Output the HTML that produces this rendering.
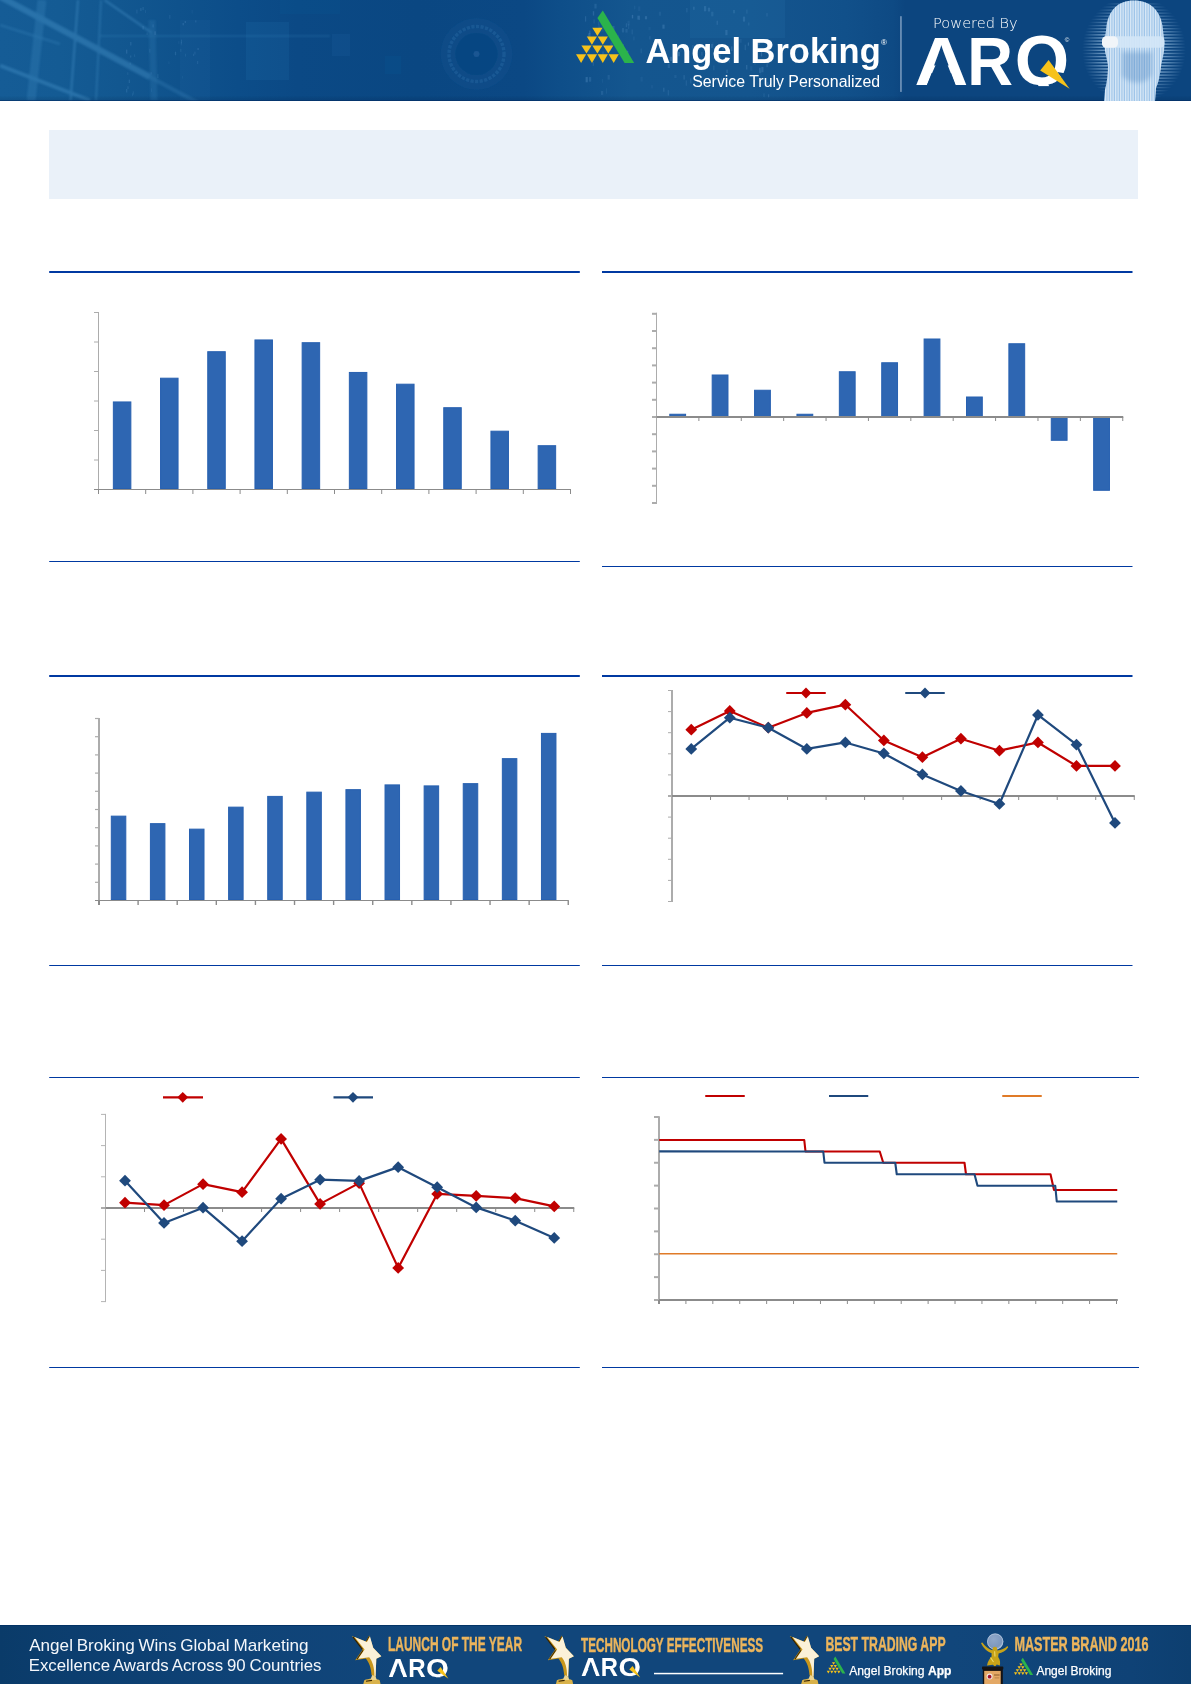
<!DOCTYPE html>
<html lang="en"><head><meta charset="utf-8"><title>Angel Broking - Market Outlook</title>
<style>
html,body{margin:0;padding:0;background:#ffffff;}
body{width:1191px;height:1684px;overflow:hidden;font-family:"Liberation Sans",sans-serif;}
svg{display:block;position:absolute;left:0;top:0;}
text{white-space:pre;}
</style></head><body>
<svg width="1191" height="1684" viewBox="0 0 1191 1684">
<rect x="0" y="0" width="1191" height="1684" fill="#ffffff"/>
<rect x="49" y="130" width="1089" height="69" fill="#eaf1f9"/>
<defs>
<linearGradient id="hg" gradientUnits="userSpaceOnUse" x1="0" x2="1191" y1="0" y2="0">
<stop offset="0" stop-color="#155c96"/>
<stop offset="0.05" stop-color="#145b94"/>
<stop offset="0.10" stop-color="#125790"/>
<stop offset="0.15" stop-color="#0f528c"/>
<stop offset="0.20" stop-color="#0c4d89"/>
<stop offset="0.25" stop-color="#0b4985"/>
<stop offset="0.35" stop-color="#0a4782"/>
<stop offset="0.44" stop-color="#0b4884"/>
<stop offset="0.47" stop-color="#0e4e89"/>
<stop offset="0.53" stop-color="#14568f"/>
<stop offset="0.63" stop-color="#14558e"/>
<stop offset="0.71" stop-color="#11508a"/>
<stop offset="0.75" stop-color="#0e4a84"/>
<stop offset="0.76" stop-color="#0c457f"/>
<stop offset="1" stop-color="#0c457f"/>
</linearGradient>
<linearGradient id="hv" x1="0" x2="0" y1="0" y2="1">
<stop offset="0" stop-color="#000" stop-opacity="0"/>
<stop offset="0.95" stop-color="#000" stop-opacity="0"/>
<stop offset="0.985" stop-color="#001a40" stop-opacity="0.12"/>
<stop offset="0.991" stop-color="#00255a" stop-opacity="0.55"/>
<stop offset="1" stop-color="#00255a" stop-opacity="0.55"/>
</linearGradient>
<filter id="b1" x="-5%" y="-20%" width="110%" height="140%"><feGaussianBlur stdDeviation="1.3"/></filter>
<filter id="b2" x="-20%" y="-20%" width="140%" height="140%"><feGaussianBlur stdDeviation="0.7"/></filter>
<filter id="b3" x="-20%" y="-20%" width="140%" height="140%"><feGaussianBlur stdDeviation="2.2"/></filter>
<pattern id="vs" width="2.5" height="4" patternUnits="userSpaceOnUse"><rect width="1.3" height="4" fill="#fff" fill-opacity="0.62"/></pattern>
<pattern id="hs" width="4" height="3.1" patternUnits="userSpaceOnUse"><rect width="4" height="1.5" fill="#a9cdee" fill-opacity="0.7"/></pattern>
<pattern id="dg" width="7" height="9" patternUnits="userSpaceOnUse"><rect x="2" y="1" width="1.4" height="5" fill="#9fd0ff" fill-opacity="0.5"/></pattern>
<radialGradient id="halo" gradientUnits="userSpaceOnUse" cx="1134" cy="50" r="52" gradientTransform="translate(0 50) scale(1 1.05) translate(0 -50)"><stop offset="0" stop-color="#fff" stop-opacity="1"/><stop offset="0.62" stop-color="#fff" stop-opacity="0.85"/><stop offset="1" stop-color="#fff" stop-opacity="0"/></radialGradient>
<mask id="hm" maskUnits="userSpaceOnUse" x="1075" y="0" width="116" height="101"><rect x="1075" y="0" width="116" height="101" fill="url(#halo)"/></mask>
<clipPath id="hc"><rect x="0" y="0" width="1191" height="101"/></clipPath>
</defs>
<g id="header" clip-path="url(#hc)">
<rect x="0" y="0" width="1191" height="101" fill="url(#hg)"/>
<!-- left light streaks -->
<g filter="url(#b1)" stroke="#6dbcf0" fill="none" opacity="0.24">
<line x1="-5" y1="-6" x2="150" y2="77" stroke-width="6"/>
<line x1="150" y1="77" x2="200" y2="104" stroke-width="4" opacity="0.6"/>
<line x1="104.5" y1="0" x2="152" y2="33" stroke-width="2.2"/>
<line x1="0" y1="65.5" x2="90" y2="100.5" stroke-width="3.5"/>
<line x1="0" y1="25" x2="60" y2="44" stroke-width="2.5" opacity="0.6"/>
<line x1="42" y1="0" x2="31" y2="101" stroke-width="9" opacity="0.6"/>
<line x1="78" y1="0" x2="70.5" y2="101" stroke-width="2.2"/>
<line x1="101" y1="0" x2="96" y2="101" stroke-width="2" opacity="0.8"/>
<line x1="100" y1="36" x2="330" y2="36" stroke-width="1.6" opacity="0.7"/>
<line x1="152" y1="20" x2="154" y2="101" stroke-width="7" opacity="0.45"/>
</g>
<!-- squares -->
<g filter="url(#b2)">
<rect x="246" y="22" width="43" height="58" fill="#2f80c2" opacity="0.13"/>
<rect x="180" y="20" width="30" height="80" fill="#2f80c2" opacity="0.08"/>
<rect x="332" y="34" width="18" height="22" fill="#2f80c2" opacity="0.10"/>
<rect x="385" y="56" width="16" height="18" fill="#2f80c2" opacity="0.07"/>
<rect x="280" y="0" width="60" height="14" fill="#2f80c2" opacity="0.06"/>
<rect x="690" y="0" width="95" height="38" fill="#3f8fd0" opacity="0.10"/>
</g>
<!-- dial -->
<g filter="url(#b2)">
<circle cx="476.5" cy="54" r="36" fill="#3f86c4" opacity="0.07"/>
<circle cx="476.5" cy="54" r="27.5" fill="none" stroke="#5a9bd2" stroke-width="3.4" stroke-dasharray="3.2 1.4" opacity="0.16"/>
<circle cx="476.5" cy="54" r="21" fill="#083f78" opacity="0.35"/>
<circle cx="476.5" cy="54" r="3" fill="#4d92cf" opacity="0.22"/>
</g>
<!-- digit texture -->
<g fill="#9fd0ff" filter="url(#b2)">
<rect x="644.9" y="16.2" width="2.2" height="3.1" opacity="0.17"/>
<rect x="602.4" y="56.8" width="2.2" height="3.5" opacity="0.06"/>
<rect x="662.4" y="24.6" width="2.2" height="4.1" opacity="0.17"/>
<rect x="607.9" y="23.0" width="2.2" height="4.5" opacity="0.06"/>
<rect x="693.3" y="6.7" width="1.2" height="3.1" opacity="0.18"/>
<rect x="638.6" y="15.6" width="1.2" height="4.4" opacity="0.13"/>
<rect x="711.2" y="11.7" width="2.2" height="4.6" opacity="0.11"/>
<rect x="686.3" y="7.9" width="1.2" height="4.5" opacity="0.12"/>
<rect x="683.4" y="75.1" width="1.4" height="4.5" opacity="0.12"/>
<rect x="640.5" y="76.7" width="2.2" height="4.9" opacity="0.06"/>
<rect x="640.5" y="48.5" width="1.4" height="4.8" opacity="0.09"/>
<rect x="766.3" y="13.1" width="1.4" height="3.4" opacity="0.10"/>
<rect x="757.7" y="41.6" width="2.2" height="3.2" opacity="0.13"/>
<rect x="731.0" y="78.9" width="1.4" height="4.7" opacity="0.14"/>
<rect x="692.3" y="44.9" width="1.2" height="5.4" opacity="0.12"/>
<rect x="707.9" y="7.7" width="2.2" height="3.8" opacity="0.14"/>
<rect x="711.0" y="43.9" width="2.2" height="4.0" opacity="0.15"/>
<rect x="589.2" y="45.4" width="1.2" height="4.5" opacity="0.12"/>
<rect x="625.4" y="29.0" width="2.2" height="3.6" opacity="0.11"/>
<rect x="746.2" y="9.6" width="1.4" height="4.0" opacity="0.09"/>
<rect x="610.3" y="42.5" width="2.2" height="3.7" opacity="0.11"/>
<rect x="651.4" y="85.1" width="1.2" height="3.4" opacity="0.08"/>
<rect x="627.9" y="23.9" width="1.4" height="5.1" opacity="0.08"/>
<rect x="637.2" y="15.7" width="2.2" height="3.9" opacity="0.13"/>
<rect x="761.3" y="66.9" width="2.2" height="5.4" opacity="0.15"/>
<rect x="721.9" y="44.9" width="2.2" height="5.0" opacity="0.11"/>
<rect x="658.8" y="11.7" width="2.2" height="4.0" opacity="0.08"/>
<rect x="767.2" y="43.4" width="1.2" height="3.9" opacity="0.06"/>
<rect x="585.0" y="16.2" width="1.2" height="5.4" opacity="0.14"/>
<rect x="598.0" y="21.5" width="1.4" height="3.4" opacity="0.09"/>
<rect x="649.3" y="36.2" width="1.2" height="3.3" opacity="0.12"/>
<rect x="765.9" y="47.2" width="1.4" height="3.2" opacity="0.07"/>
<rect x="648.4" y="26.9" width="2.2" height="3.4" opacity="0.05"/>
<rect x="760.9" y="51.7" width="1.2" height="4.7" opacity="0.19"/>
<rect x="725.3" y="30.0" width="2.2" height="5.2" opacity="0.15"/>
<rect x="633.3" y="36.5" width="1.2" height="3.9" opacity="0.08"/>
<rect x="685.2" y="49.3" width="2.2" height="3.6" opacity="0.17"/>
<rect x="767.2" y="82.1" width="1.2" height="5.0" opacity="0.16"/>
<rect x="626.9" y="50.7" width="1.4" height="4.8" opacity="0.20"/>
<rect x="731.2" y="46.4" width="1.2" height="4.7" opacity="0.19"/>
<rect x="667.7" y="90.1" width="1.4" height="5.4" opacity="0.10"/>
<rect x="625.8" y="23.3" width="1.2" height="3.8" opacity="0.12"/>
<rect x="767.3" y="59.4" width="1.2" height="4.2" opacity="0.15"/>
<rect x="732.9" y="10.0" width="2.2" height="3.3" opacity="0.11"/>
<rect x="716.6" y="20.7" width="1.2" height="4.1" opacity="0.15"/>
<rect x="601.0" y="90.9" width="2.2" height="4.0" opacity="0.11"/>
<rect x="760.2" y="70.1" width="1.2" height="5.5" opacity="0.05"/>
<rect x="694.3" y="45.7" width="2.2" height="3.4" opacity="0.17"/>
<rect x="766.4" y="63.8" width="1.4" height="3.4" opacity="0.13"/>
<rect x="589.0" y="77.1" width="2.2" height="4.6" opacity="0.13"/>
<rect x="757.7" y="42.8" width="1.2" height="5.1" opacity="0.08"/>
<rect x="631.6" y="29.5" width="1.2" height="4.9" opacity="0.10"/>
<rect x="685.7" y="80.4" width="1.2" height="5.3" opacity="0.10"/>
<rect x="669.8" y="56.8" width="2.2" height="4.1" opacity="0.19"/>
<rect x="677.8" y="52.0" width="2.2" height="4.3" opacity="0.18"/>
<rect x="728.7" y="59.2" width="1.2" height="3.4" opacity="0.12"/>
<rect x="719.2" y="54.3" width="1.4" height="4.7" opacity="0.13"/>
<rect x="674.3" y="75.0" width="2.2" height="3.1" opacity="0.08"/>
<rect x="592.8" y="11.2" width="1.4" height="4.4" opacity="0.16"/>
<rect x="753.8" y="43.7" width="2.2" height="5.4" opacity="0.14"/>
<rect x="621.9" y="28.1" width="2.2" height="4.3" opacity="0.12"/>
<rect x="759.2" y="67.7" width="1.4" height="5.3" opacity="0.18"/>
<rect x="622.5" y="44.1" width="1.4" height="3.3" opacity="0.12"/>
<rect x="598.4" y="24.6" width="1.2" height="3.5" opacity="0.10"/>
<rect x="607.6" y="75.0" width="2.2" height="4.6" opacity="0.10"/>
<rect x="631.8" y="14.9" width="1.4" height="3.5" opacity="0.19"/>
<rect x="658.7" y="47.8" width="2.2" height="5.1" opacity="0.07"/>
<rect x="664.8" y="50.5" width="1.4" height="4.1" opacity="0.10"/>
<rect x="602.1" y="36.4" width="1.4" height="4.4" opacity="0.12"/>
<rect x="588.3" y="33.2" width="2.2" height="3.7" opacity="0.19"/>
<rect x="605.9" y="88.3" width="1.2" height="5.4" opacity="0.07"/>
<rect x="634.1" y="5.7" width="1.2" height="3.7" opacity="0.07"/>
<rect x="663.1" y="87.7" width="1.4" height="4.0" opacity="0.13"/>
<rect x="680.2" y="48.5" width="1.4" height="3.2" opacity="0.06"/>
<rect x="712.3" y="42.0" width="1.2" height="3.7" opacity="0.05"/>
<rect x="601.4" y="26.5" width="2.2" height="5.1" opacity="0.06"/>
<rect x="744.6" y="44.7" width="1.4" height="5.5" opacity="0.11"/>
<rect x="754.4" y="60.4" width="1.2" height="4.3" opacity="0.09"/>
<rect x="605.2" y="17.2" width="1.2" height="3.5" opacity="0.19"/>
<rect x="701.3" y="51.9" width="1.2" height="3.7" opacity="0.13"/>
<rect x="617.9" y="34.6" width="1.2" height="5.5" opacity="0.06"/>
<rect x="588.4" y="49.5" width="1.2" height="4.3" opacity="0.09"/>
<rect x="667.7" y="63.9" width="2.2" height="4.1" opacity="0.12"/>
<rect x="739.4" y="39.0" width="2.2" height="3.8" opacity="0.08"/>
<rect x="627.5" y="20.7" width="2.2" height="4.8" opacity="0.07"/>
<rect x="768.0" y="94.3" width="1.2" height="3.0" opacity="0.14"/>
<rect x="747.8" y="42.5" width="1.2" height="3.2" opacity="0.18"/>
<rect x="746.0" y="65.0" width="1.4" height="4.5" opacity="0.15"/>
<rect x="593.4" y="19.4" width="1.4" height="4.1" opacity="0.09"/>
<rect x="762.9" y="93.4" width="2.2" height="3.8" opacity="0.06"/>
<rect x="748.2" y="22.5" width="1.2" height="3.0" opacity="0.11"/>
<rect x="672.8" y="49.3" width="1.2" height="3.6" opacity="0.17"/>
<rect x="601.8" y="78.8" width="1.2" height="4.0" opacity="0.06"/>
<rect x="589.2" y="30.6" width="1.2" height="3.2" opacity="0.19"/>
<rect x="742.9" y="16.6" width="2.2" height="5.0" opacity="0.14"/>
<rect x="726.4" y="69.7" width="1.4" height="3.4" opacity="0.16"/>
<rect x="704.0" y="6.1" width="2.2" height="5.2" opacity="0.14"/>
<rect x="720.8" y="78.3" width="1.2" height="5.3" opacity="0.16"/>
<rect x="690.2" y="78.4" width="1.2" height="5.1" opacity="0.14"/>
<rect x="750.2" y="66.2" width="2.2" height="4.6" opacity="0.06"/>
<rect x="592.7" y="61.9" width="1.2" height="3.9" opacity="0.12"/>
<rect x="594.4" y="3.8" width="2.2" height="4.7" opacity="0.12"/>
<rect x="585.6" y="77.0" width="2.2" height="5.3" opacity="0.18"/>
<rect x="602.0" y="51.4" width="2.2" height="4.8" opacity="0.09"/>
<rect x="598.8" y="27.0" width="2.2" height="4.9" opacity="0.08"/>
<rect x="705.2" y="45.3" width="1.4" height="3.2" opacity="0.19"/>
<rect x="638.2" y="6.4" width="2.2" height="4.6" opacity="0.06"/>
<rect x="612.3" y="25.9" width="2.2" height="4.7" opacity="0.14"/>
<rect x="609.7" y="47.3" width="1.4" height="3.7" opacity="0.15"/>
<rect x="713.1" y="65.5" width="1.4" height="4.8" opacity="0.09"/>
<rect x="157.3" y="74.1" width="1.2" height="4.0" opacity="0.11"/>
<rect x="144.9" y="10.1" width="1.2" height="2.9" opacity="0.08"/>
<rect x="126.1" y="49.6" width="1.2" height="4.0" opacity="0.16"/>
<rect x="150.9" y="88.2" width="1.2" height="3.9" opacity="0.06"/>
<rect x="127.2" y="72.3" width="1.2" height="2.5" opacity="0.09"/>
<rect x="168.3" y="61.4" width="1.2" height="2.6" opacity="0.06"/>
<rect x="149.2" y="48.8" width="1.2" height="3.8" opacity="0.09"/>
<rect x="132.7" y="91.3" width="1.2" height="3.4" opacity="0.09"/>
<rect x="178.2" y="41.1" width="1.2" height="2.8" opacity="0.06"/>
<rect x="146.5" y="32.5" width="1.2" height="2.7" opacity="0.09"/>
<rect x="195.2" y="20.4" width="1.2" height="2.0" opacity="0.13"/>
<rect x="140.3" y="8.1" width="1.2" height="2.8" opacity="0.15"/>
<rect x="126.1" y="89.0" width="1.2" height="3.5" opacity="0.14"/>
<rect x="142.5" y="6.9" width="1.2" height="3.3" opacity="0.12"/>
<rect x="131.9" y="93.3" width="1.2" height="2.9" opacity="0.08"/>
<rect x="181.9" y="75.8" width="1.2" height="2.9" opacity="0.05"/>
<rect x="180.9" y="39.6" width="1.2" height="3.8" opacity="0.11"/>
<rect x="136.3" y="9.6" width="1.2" height="3.9" opacity="0.10"/>
<rect x="169.2" y="15.0" width="1.2" height="3.7" opacity="0.10"/>
<rect x="193.0" y="53.7" width="1.2" height="2.3" opacity="0.10"/>
<rect x="142.5" y="26.0" width="1.2" height="3.5" opacity="0.12"/>
<rect x="152.5" y="24.4" width="1.2" height="3.0" opacity="0.12"/>
<rect x="129.6" y="62.5" width="1.2" height="2.2" opacity="0.11"/>
<rect x="184.9" y="53.7" width="1.2" height="2.9" opacity="0.09"/>
<rect x="180.7" y="42.2" width="1.2" height="3.1" opacity="0.08"/>
<rect x="134.0" y="54.3" width="1.2" height="2.6" opacity="0.09"/>
<rect x="184.7" y="21.0" width="1.2" height="2.0" opacity="0.15"/>
<rect x="150.6" y="72.1" width="1.2" height="2.4" opacity="0.08"/>
<rect x="180.2" y="48.8" width="1.2" height="3.1" opacity="0.09"/>
<rect x="174.9" y="51.7" width="1.2" height="3.6" opacity="0.14"/>
<rect x="127.4" y="86.3" width="1.2" height="2.8" opacity="0.12"/>
<rect x="154.5" y="31.3" width="1.2" height="3.6" opacity="0.16"/>
<rect x="130.2" y="42.0" width="1.2" height="3.5" opacity="0.14"/>
<rect x="197.5" y="48.0" width="1.2" height="2.1" opacity="0.15"/>
<rect x="194.3" y="51.6" width="1.2" height="2.9" opacity="0.10"/>
<rect x="182.6" y="23.0" width="1.2" height="2.3" opacity="0.16"/>
<rect x="128.7" y="79.6" width="1.2" height="3.4" opacity="0.14"/>
<rect x="191.6" y="10.0" width="1.2" height="3.6" opacity="0.05"/>
<rect x="130.1" y="55.5" width="1.2" height="2.1" opacity="0.13"/>
<rect x="197.0" y="60.9" width="1.2" height="3.1" opacity="0.10"/>
</g>
<rect x="0" y="0" width="1191" height="101" fill="url(#hv)"/>
<!-- face -->
<g mask="url(#hm)"><rect x="1078" y="2" width="112" height="98" fill="url(#hs)"/></g>
<g filter="url(#b2)">
<path d="M1134 0.5C1150 0.5 1160 10 1162.5 26L1164.5 44C1164.5 52 1162 60 1161 66C1160 76 1158 84 1156 88L1155 101L1104 101L1105 90C1107 82 1108 74 1108 66C1107 58 1104.5 52 1104.5 44L1106.5 26C1109 10 1118 0.5 1134 0.5Z" fill="#9cc3e8"/>
<path d="M1134 0.5C1150 0.5 1160 10 1162.5 26L1164.5 44C1164.5 52 1162 60 1161 66C1160 76 1158 84 1156 88L1155 101L1104 101L1105 90C1107 82 1108 74 1108 66C1107 58 1104.5 52 1104.5 44L1106.5 26C1109 10 1118 0.5 1134 0.5Z" fill="url(#vs)"/>
</g>
<path d="M1122 52L1152 52L1152 74C1148 84 1132 86 1122 76Z" fill="#3f7ab8" opacity="0.30" filter="url(#b3)"/>
<g filter="url(#b2)">
<rect x="1102" y="36.2" width="62.5" height="11.6" rx="4.5" fill="#d3e6f7" opacity="0.92"/>
<rect x="1102" y="36.2" width="16" height="11.6" rx="4.5" fill="#f1f5f9"/>
</g>
</g>

<defs>
<g id="star">
<path d="M351.8 1636.1L365.8 1641.6L369.2 1635.6L373.2 1647.7L381.3 1656.2L376.3 1658.8L375.6 1677L371.6 1675.2C371.2 1668 369 1662 365.8 1658.4L355.2 1660.2L362.4 1649.7Z" fill="#c9971c"/>
<path d="M353 1637L362.4 1649.4" stroke="#2a1a00" stroke-width="1.2" fill="none"/>
<path d="M363 1650.4L357 1659.2" stroke="#4a3000" stroke-width="1.1" fill="none"/>
<path d="M366.4 1641.4L369 1636.4" stroke="#4a3000" stroke-width="1" fill="none"/>
<path d="M354.6 1636.9L366.9 1642L370 1636.4L373.2 1647.7L381.3 1656.2L376.3 1658.8L375.6 1676.5L374.4 1675.8C374.6 1668 372.6 1661.5 369.2 1657.2L358.2 1658.8L364.6 1649.5Z" fill="#fbf1d8"/>
<path d="M363.3 1684L364.3 1680.3C368 1678.3 376 1678.3 379.7 1680.3L380.5 1684Z" fill="#d9b24a"/>
<path d="M372.3 1675L375.6 1676.5L376.8 1680L370.2 1680Z" fill="#ecd590"/>
<path d="M366 1681.2L372 1680.4" stroke="#3a2500" stroke-width="1.1" fill="none"/>
</g>
<g id="mini">
<path d="M0 0L-5.4 7.7L21.8 52.6L31.4 52.6Z" fill="#2bb34b"/>
<g fill="#f6c21a">
<path d="M-10.5 17.3h10.2l-5.1 8.2z"/>
<path d="M-16 26.2h10.2l-5.1 8.2z"/><path d="M-5.1 26.2h10.2l-5.1 8.2z"/>
<path d="M-21.4 35h10.2l-5.1 8.2z"/><path d="M-10.5 35h10.2l-5.1 8.2z"/><path d="M0.4 35h10.2l-5.1 8.2z"/>
<path d="M-26.8 43.9h10.2l-5.1 8.7z"/><path d="M-15.9 43.9h10.2l-5.1 8.7z"/><path d="M-5.1 43.9h10.2l-5.1 8.7z"/><path d="M5.8 43.9h10.2l-5.1 8.7z"/>
</g>
</g>
<linearGradient id="fg" gradientUnits="userSpaceOnUse" x1="0" x2="1191" y1="0" y2="0">
<stop offset="0" stop-color="#0a3b69"/><stop offset="0.06" stop-color="#0c3e6f"/><stop offset="0.2" stop-color="#0f4377"/><stop offset="0.35" stop-color="#11467b"/><stop offset="0.8" stop-color="#11467b"/><stop offset="0.95" stop-color="#0f4276"/><stop offset="1" stop-color="#0d3f70"/>
</linearGradient>
<radialGradient id="globe" cx="0.4" cy="0.35" r="0.7"><stop offset="0" stop-color="#8fa7c9"/><stop offset="0.75" stop-color="#7c97bd"/><stop offset="1" stop-color="#a9bfda"/></radialGradient>
</defs>
<g id="footer">
<rect x="0" y="1625" width="1191" height="59" fill="url(#fg)"/>
<rect x="0" y="1625" width="1191" height="1" fill="#003063" opacity="0.8"/>
<use href="#star"/>
<use href="#star" x="192.6"/>
<use href="#star" x="437.9"/>
<!-- master brand trophy -->
<circle cx="995.2" cy="1641.6" r="8.1" fill="url(#globe)"/>
<circle cx="995.2" cy="1641.6" r="7.7" fill="none" stroke="#c3d3e6" stroke-width="0.8" opacity="0.8"/>
<g fill="#c8a318">
<path d="M981 1643L982.4 1642.6C985 1646.5 989 1649.5 992.4 1650.2L993 1647.6C994 1646.6 996 1646.6 996.8 1647.6L997.4 1650.4C1001 1650.2 1005 1648.6 1007.4 1646L1008.2 1647.2C1006 1650.8 1002 1652.8 998.6 1653.4L998.2 1657C1000.4 1660 1000.4 1663 999.8 1665.6L996.8 1664.6L995 1666.6L992.8 1664.8L987 1665.4C987.8 1661.6 989.6 1658.6 991.6 1656.6L991.6 1653.2C987.6 1652 983 1648 981 1643Z"/>
</g>
<path d="M990.5 1657.5L993.5 1662M994.6 1651.2L995 1656.5" stroke="#ecd869" stroke-width="1.1" fill="none"/>
<rect x="982" y="1666.6" width="21.3" height="2.9" rx="0.8" fill="#141414"/>
<rect x="982.8" y="1669" width="20" height="15" fill="#151212"/>
<rect x="984.2" y="1670.9" width="16.5" height="13.1" fill="#e3a865"/>
<rect x="994" y="1674.5" width="5.6" height="1" fill="#8a5a2a"/>
<rect x="994.6" y="1677.5" width="4.6" height="0.8" fill="#b07a40"/>
<circle cx="989.6" cy="1676.6" r="3" fill="#efe6e0"/>
<circle cx="989.6" cy="1676.7" r="1.9" fill="#a3122c"/>
<!-- white rule -->
<rect x="654" y="1672.8" width="129.1" height="1.5" fill="#ffffff"/>
<!-- mini logos -->
<use href="#mini" transform="translate(835.3 1656.6) scale(0.322)"/>
<use href="#mini" transform="translate(1022.8 1657.7) scale(0.33)"/>
</g>

<g id="rules">
<rect x="49.2" y="271.00" width="530.60" height="2" fill="#0039a1"/>
<rect x="49.2" y="561.00" width="530.60" height="1" fill="#0039a1"/>
<rect x="602" y="271.00" width="530.50" height="2" fill="#0039a1"/>
<rect x="602" y="566.00" width="530.50" height="1" fill="#0039a1"/>
<rect x="49.2" y="675.00" width="530.60" height="2" fill="#0039a1"/>
<rect x="49.2" y="965.00" width="530.60" height="1" fill="#0039a1"/>
<rect x="602" y="675.00" width="530.50" height="2" fill="#0039a1"/>
<rect x="602" y="965.00" width="530.50" height="1" fill="#0039a1"/>
<rect x="49.2" y="1077.00" width="530.60" height="1" fill="#0039a1"/>
<rect x="49.2" y="1367.00" width="530.60" height="1" fill="#0039a1"/>
<rect x="602" y="1077.00" width="537.00" height="1" fill="#0039a1"/>
<rect x="602" y="1367.00" width="537.00" height="1" fill="#0039a1"/>
</g>
<g id="chart1">
<rect x="113.35" y="401.95" width="17.50" height="86.55" fill="#2e66b2" stroke="#2760b0" stroke-width="1"/>
<rect x="160.55" y="378.20" width="17.50" height="110.30" fill="#2e66b2" stroke="#2760b0" stroke-width="1"/>
<rect x="207.75" y="351.70" width="17.50" height="136.80" fill="#2e66b2" stroke="#2760b0" stroke-width="1"/>
<rect x="254.95" y="339.95" width="17.50" height="148.55" fill="#2e66b2" stroke="#2760b0" stroke-width="1"/>
<rect x="302.15" y="342.70" width="17.50" height="145.80" fill="#2e66b2" stroke="#2760b0" stroke-width="1"/>
<rect x="349.35" y="372.45" width="17.50" height="116.05" fill="#2e66b2" stroke="#2760b0" stroke-width="1"/>
<rect x="396.55" y="384.20" width="17.50" height="104.30" fill="#2e66b2" stroke="#2760b0" stroke-width="1"/>
<rect x="443.75" y="407.70" width="17.50" height="80.80" fill="#2e66b2" stroke="#2760b0" stroke-width="1"/>
<rect x="490.95" y="431.20" width="17.50" height="57.30" fill="#2e66b2" stroke="#2760b0" stroke-width="1"/>
<rect x="538.15" y="445.70" width="17.50" height="42.80" fill="#2e66b2" stroke="#2760b0" stroke-width="1"/>
<line x1="98.50" y1="312.00" x2="98.50" y2="490.00" stroke="#acacac" stroke-width="1"/>
<line x1="94.00" y1="312.50" x2="98.50" y2="312.50" stroke="#acacac" stroke-width="1"/>
<line x1="94.00" y1="342.00" x2="98.50" y2="342.00" stroke="#acacac" stroke-width="1"/>
<line x1="94.00" y1="371.50" x2="98.50" y2="371.50" stroke="#acacac" stroke-width="1"/>
<line x1="94.00" y1="401.00" x2="98.50" y2="401.00" stroke="#acacac" stroke-width="1"/>
<line x1="94.00" y1="430.50" x2="98.50" y2="430.50" stroke="#acacac" stroke-width="1"/>
<line x1="94.00" y1="460.00" x2="98.50" y2="460.00" stroke="#acacac" stroke-width="1"/>
<line x1="94.00" y1="489.50" x2="571.00" y2="489.50" stroke="#8b8b8b" stroke-width="1"/>
<line x1="98.50" y1="489.50" x2="98.50" y2="494.00" stroke="#8b8b8b" stroke-width="1"/>
<line x1="145.70" y1="489.50" x2="145.70" y2="494.00" stroke="#8b8b8b" stroke-width="1"/>
<line x1="192.90" y1="489.50" x2="192.90" y2="494.00" stroke="#8b8b8b" stroke-width="1"/>
<line x1="240.10" y1="489.50" x2="240.10" y2="494.00" stroke="#8b8b8b" stroke-width="1"/>
<line x1="287.30" y1="489.50" x2="287.30" y2="494.00" stroke="#8b8b8b" stroke-width="1"/>
<line x1="334.50" y1="489.50" x2="334.50" y2="494.00" stroke="#8b8b8b" stroke-width="1"/>
<line x1="381.70" y1="489.50" x2="381.70" y2="494.00" stroke="#8b8b8b" stroke-width="1"/>
<line x1="428.90" y1="489.50" x2="428.90" y2="494.00" stroke="#8b8b8b" stroke-width="1"/>
<line x1="476.10" y1="489.50" x2="476.10" y2="494.00" stroke="#8b8b8b" stroke-width="1"/>
<line x1="523.30" y1="489.50" x2="523.30" y2="494.00" stroke="#8b8b8b" stroke-width="1"/>
<line x1="570.50" y1="489.50" x2="570.50" y2="494.00" stroke="#8b8b8b" stroke-width="1"/>
</g>
<g id="chart2">
<rect x="669.79" y="414.25" width="15.80" height="2.25" fill="#2e66b2" stroke="#2760b0" stroke-width="1"/>
<rect x="712.18" y="375.00" width="15.80" height="41.50" fill="#2e66b2" stroke="#2760b0" stroke-width="1"/>
<rect x="754.57" y="390.25" width="15.80" height="26.25" fill="#2e66b2" stroke="#2760b0" stroke-width="1"/>
<rect x="796.95" y="414.25" width="15.80" height="2.25" fill="#2e66b2" stroke="#2760b0" stroke-width="1"/>
<rect x="839.34" y="371.75" width="15.80" height="44.75" fill="#2e66b2" stroke="#2760b0" stroke-width="1"/>
<rect x="881.73" y="362.75" width="15.80" height="53.75" fill="#2e66b2" stroke="#2760b0" stroke-width="1"/>
<rect x="924.11" y="339.00" width="15.80" height="77.50" fill="#2e66b2" stroke="#2760b0" stroke-width="1"/>
<rect x="966.50" y="397.00" width="15.80" height="19.50" fill="#2e66b2" stroke="#2760b0" stroke-width="1"/>
<rect x="1008.88" y="343.75" width="15.80" height="72.75" fill="#2e66b2" stroke="#2760b0" stroke-width="1"/>
<rect x="1051.27" y="417.50" width="15.80" height="22.80" fill="#2e66b2" stroke="#2760b0" stroke-width="1"/>
<rect x="1093.66" y="417.50" width="15.80" height="72.80" fill="#2e66b2" stroke="#2760b0" stroke-width="1"/>
<line x1="656.50" y1="312.80" x2="656.50" y2="504.00" stroke="#acacac" stroke-width="1"/>
<line x1="652.00" y1="313.80" x2="657.00" y2="313.80" stroke="#acacac" stroke-width="2"/>
<line x1="652.00" y1="331.00" x2="657.00" y2="331.00" stroke="#acacac" stroke-width="2"/>
<line x1="652.00" y1="348.20" x2="657.00" y2="348.20" stroke="#acacac" stroke-width="2"/>
<line x1="652.00" y1="365.40" x2="657.00" y2="365.40" stroke="#acacac" stroke-width="2"/>
<line x1="652.00" y1="382.60" x2="657.00" y2="382.60" stroke="#acacac" stroke-width="2"/>
<line x1="652.00" y1="399.80" x2="657.00" y2="399.80" stroke="#acacac" stroke-width="2"/>
<line x1="652.00" y1="434.20" x2="657.00" y2="434.20" stroke="#acacac" stroke-width="2"/>
<line x1="652.00" y1="451.40" x2="657.00" y2="451.40" stroke="#acacac" stroke-width="2"/>
<line x1="652.00" y1="468.60" x2="657.00" y2="468.60" stroke="#acacac" stroke-width="2"/>
<line x1="652.00" y1="485.80" x2="657.00" y2="485.80" stroke="#acacac" stroke-width="2"/>
<line x1="652.00" y1="503.00" x2="657.00" y2="503.00" stroke="#acacac" stroke-width="2"/>
<line x1="652.00" y1="417.00" x2="656.50" y2="417.00" stroke="#acacac" stroke-width="2"/>
<line x1="656.50" y1="417.00" x2="1123.25" y2="417.00" stroke="#8b8b8b" stroke-width="2"/>
<line x1="698.89" y1="417.00" x2="698.89" y2="421.00" stroke="#8b8b8b" stroke-width="1"/>
<line x1="741.27" y1="417.00" x2="741.27" y2="421.00" stroke="#8b8b8b" stroke-width="1"/>
<line x1="783.66" y1="417.00" x2="783.66" y2="421.00" stroke="#8b8b8b" stroke-width="1"/>
<line x1="826.05" y1="417.00" x2="826.05" y2="421.00" stroke="#8b8b8b" stroke-width="1"/>
<line x1="868.43" y1="417.00" x2="868.43" y2="421.00" stroke="#8b8b8b" stroke-width="1"/>
<line x1="910.82" y1="417.00" x2="910.82" y2="421.00" stroke="#8b8b8b" stroke-width="1"/>
<line x1="953.20" y1="417.00" x2="953.20" y2="421.00" stroke="#8b8b8b" stroke-width="1"/>
<line x1="995.59" y1="417.00" x2="995.59" y2="421.00" stroke="#8b8b8b" stroke-width="1"/>
<line x1="1037.98" y1="417.00" x2="1037.98" y2="421.00" stroke="#8b8b8b" stroke-width="1"/>
<line x1="1080.36" y1="417.00" x2="1080.36" y2="421.00" stroke="#8b8b8b" stroke-width="1"/>
<line x1="1122.75" y1="417.00" x2="1122.75" y2="421.00" stroke="#8b8b8b" stroke-width="1"/>
</g>
<g id="chart3">
<rect x="111.30" y="816.15" width="14.50" height="83.35" fill="#2e66b2" stroke="#2760b0" stroke-width="1"/>
<rect x="150.41" y="823.65" width="14.50" height="75.85" fill="#2e66b2" stroke="#2760b0" stroke-width="1"/>
<rect x="189.51" y="829.15" width="14.50" height="70.35" fill="#2e66b2" stroke="#2760b0" stroke-width="1"/>
<rect x="228.61" y="807.15" width="14.50" height="92.35" fill="#2e66b2" stroke="#2760b0" stroke-width="1"/>
<rect x="267.72" y="796.40" width="14.50" height="103.10" fill="#2e66b2" stroke="#2760b0" stroke-width="1"/>
<rect x="306.82" y="792.15" width="14.50" height="107.35" fill="#2e66b2" stroke="#2760b0" stroke-width="1"/>
<rect x="345.93" y="789.65" width="14.50" height="109.85" fill="#2e66b2" stroke="#2760b0" stroke-width="1"/>
<rect x="385.03" y="784.90" width="14.50" height="114.60" fill="#2e66b2" stroke="#2760b0" stroke-width="1"/>
<rect x="424.14" y="785.90" width="14.50" height="113.60" fill="#2e66b2" stroke="#2760b0" stroke-width="1"/>
<rect x="463.24" y="783.65" width="14.50" height="115.85" fill="#2e66b2" stroke="#2760b0" stroke-width="1"/>
<rect x="502.34" y="758.65" width="14.50" height="140.85" fill="#2e66b2" stroke="#2760b0" stroke-width="1"/>
<rect x="541.45" y="733.40" width="14.50" height="166.10" fill="#2e66b2" stroke="#2760b0" stroke-width="1"/>
<line x1="99.00" y1="718.00" x2="99.00" y2="901.00" stroke="#acacac" stroke-width="2"/>
<line x1="95.00" y1="718.50" x2="99.00" y2="718.50" stroke="#acacac" stroke-width="1.2"/>
<line x1="95.00" y1="736.70" x2="99.00" y2="736.70" stroke="#acacac" stroke-width="1.2"/>
<line x1="95.00" y1="754.90" x2="99.00" y2="754.90" stroke="#acacac" stroke-width="1.2"/>
<line x1="95.00" y1="773.10" x2="99.00" y2="773.10" stroke="#acacac" stroke-width="1.2"/>
<line x1="95.00" y1="791.30" x2="99.00" y2="791.30" stroke="#acacac" stroke-width="1.2"/>
<line x1="95.00" y1="809.50" x2="99.00" y2="809.50" stroke="#acacac" stroke-width="1.2"/>
<line x1="95.00" y1="827.70" x2="99.00" y2="827.70" stroke="#acacac" stroke-width="1.2"/>
<line x1="95.00" y1="845.90" x2="99.00" y2="845.90" stroke="#acacac" stroke-width="1.2"/>
<line x1="95.00" y1="864.10" x2="99.00" y2="864.10" stroke="#acacac" stroke-width="1.2"/>
<line x1="95.00" y1="882.30" x2="99.00" y2="882.30" stroke="#acacac" stroke-width="1.2"/>
<line x1="95.00" y1="900.50" x2="568.75" y2="900.50" stroke="#8b8b8b" stroke-width="1"/>
<line x1="99.00" y1="900.50" x2="99.00" y2="905.00" stroke="#8b8b8b" stroke-width="2"/>
<line x1="138.10" y1="900.50" x2="138.10" y2="905.00" stroke="#8b8b8b" stroke-width="1.4"/>
<line x1="177.21" y1="900.50" x2="177.21" y2="905.00" stroke="#8b8b8b" stroke-width="1.4"/>
<line x1="216.31" y1="900.50" x2="216.31" y2="905.00" stroke="#8b8b8b" stroke-width="1.4"/>
<line x1="255.42" y1="900.50" x2="255.42" y2="905.00" stroke="#8b8b8b" stroke-width="1.4"/>
<line x1="294.52" y1="900.50" x2="294.52" y2="905.00" stroke="#8b8b8b" stroke-width="1.4"/>
<line x1="333.62" y1="900.50" x2="333.62" y2="905.00" stroke="#8b8b8b" stroke-width="1.4"/>
<line x1="372.73" y1="900.50" x2="372.73" y2="905.00" stroke="#8b8b8b" stroke-width="1.4"/>
<line x1="411.83" y1="900.50" x2="411.83" y2="905.00" stroke="#8b8b8b" stroke-width="1.4"/>
<line x1="450.94" y1="900.50" x2="450.94" y2="905.00" stroke="#8b8b8b" stroke-width="1.4"/>
<line x1="490.04" y1="900.50" x2="490.04" y2="905.00" stroke="#8b8b8b" stroke-width="1.4"/>
<line x1="529.15" y1="900.50" x2="529.15" y2="905.00" stroke="#8b8b8b" stroke-width="1.4"/>
<line x1="568.25" y1="900.50" x2="568.25" y2="905.00" stroke="#8b8b8b" stroke-width="1.4"/>
</g>
<g id="chart4">
<line x1="672.00" y1="689.90" x2="672.00" y2="902.10" stroke="#acacac" stroke-width="2"/>
<line x1="668.00" y1="690.50" x2="672.00" y2="690.50" stroke="#acacac" stroke-width="1"/>
<line x1="668.00" y1="711.60" x2="672.00" y2="711.60" stroke="#acacac" stroke-width="1"/>
<line x1="668.00" y1="732.70" x2="672.00" y2="732.70" stroke="#acacac" stroke-width="1"/>
<line x1="668.00" y1="753.80" x2="672.00" y2="753.80" stroke="#acacac" stroke-width="1"/>
<line x1="668.00" y1="774.90" x2="672.00" y2="774.90" stroke="#acacac" stroke-width="1"/>
<line x1="668.00" y1="817.10" x2="672.00" y2="817.10" stroke="#acacac" stroke-width="1"/>
<line x1="668.00" y1="838.20" x2="672.00" y2="838.20" stroke="#acacac" stroke-width="1"/>
<line x1="668.00" y1="859.30" x2="672.00" y2="859.30" stroke="#acacac" stroke-width="1"/>
<line x1="668.00" y1="880.40" x2="672.00" y2="880.40" stroke="#acacac" stroke-width="1"/>
<line x1="668.00" y1="901.50" x2="672.00" y2="901.50" stroke="#acacac" stroke-width="1"/>
<line x1="668.00" y1="796.00" x2="672.00" y2="796.00" stroke="#acacac" stroke-width="2"/>
<line x1="672.00" y1="796.00" x2="1134.75" y2="796.00" stroke="#8b8b8b" stroke-width="2"/>
<line x1="710.52" y1="796.00" x2="710.52" y2="800.00" stroke="#8b8b8b" stroke-width="1"/>
<line x1="749.04" y1="796.00" x2="749.04" y2="800.00" stroke="#8b8b8b" stroke-width="1"/>
<line x1="787.56" y1="796.00" x2="787.56" y2="800.00" stroke="#8b8b8b" stroke-width="1"/>
<line x1="826.08" y1="796.00" x2="826.08" y2="800.00" stroke="#8b8b8b" stroke-width="1"/>
<line x1="864.60" y1="796.00" x2="864.60" y2="800.00" stroke="#8b8b8b" stroke-width="1"/>
<line x1="903.12" y1="796.00" x2="903.12" y2="800.00" stroke="#8b8b8b" stroke-width="1"/>
<line x1="941.65" y1="796.00" x2="941.65" y2="800.00" stroke="#8b8b8b" stroke-width="1"/>
<line x1="980.17" y1="796.00" x2="980.17" y2="800.00" stroke="#8b8b8b" stroke-width="1"/>
<line x1="1018.69" y1="796.00" x2="1018.69" y2="800.00" stroke="#8b8b8b" stroke-width="1"/>
<line x1="1057.21" y1="796.00" x2="1057.21" y2="800.00" stroke="#8b8b8b" stroke-width="1"/>
<line x1="1095.73" y1="796.00" x2="1095.73" y2="800.00" stroke="#8b8b8b" stroke-width="1"/>
<line x1="1134.25" y1="796.00" x2="1134.25" y2="800.00" stroke="#8b8b8b" stroke-width="1"/>
<polyline points="691.26,729.70 729.78,710.95 768.30,727.70 806.82,712.95 845.34,704.70 883.86,740.45 922.39,757.20 960.91,738.70 999.43,750.70 1037.95,742.45 1076.47,765.95 1114.99,765.95" fill="none" stroke="#c00000" stroke-width="2.2" stroke-linejoin="round" stroke-linecap="butt"/>
<path d="M691.26 723.80L697.16 729.70L691.26 735.60L685.36 729.70Z" fill="#c00000"/>
<path d="M729.78 705.05L735.68 710.95L729.78 716.85L723.88 710.95Z" fill="#c00000"/>
<path d="M768.30 721.80L774.20 727.70L768.30 733.60L762.40 727.70Z" fill="#c00000"/>
<path d="M806.82 707.05L812.72 712.95L806.82 718.85L800.92 712.95Z" fill="#c00000"/>
<path d="M845.34 698.80L851.24 704.70L845.34 710.60L839.44 704.70Z" fill="#c00000"/>
<path d="M883.86 734.55L889.76 740.45L883.86 746.35L877.96 740.45Z" fill="#c00000"/>
<path d="M922.39 751.30L928.29 757.20L922.39 763.10L916.49 757.20Z" fill="#c00000"/>
<path d="M960.91 732.80L966.81 738.70L960.91 744.60L955.01 738.70Z" fill="#c00000"/>
<path d="M999.43 744.80L1005.33 750.70L999.43 756.60L993.53 750.70Z" fill="#c00000"/>
<path d="M1037.95 736.55L1043.85 742.45L1037.95 748.35L1032.05 742.45Z" fill="#c00000"/>
<path d="M1076.47 760.05L1082.37 765.95L1076.47 771.85L1070.57 765.95Z" fill="#c00000"/>
<path d="M1114.99 760.05L1120.89 765.95L1114.99 771.85L1109.09 765.95Z" fill="#c00000"/>
<polyline points="691.26,748.95 729.78,717.70 768.30,727.70 806.82,748.95 845.34,742.45 883.86,753.45 922.39,774.45 960.91,790.95 999.43,803.95 1037.95,714.95 1076.47,744.70 1114.99,822.95" fill="none" stroke="#1f497d" stroke-width="2.2" stroke-linejoin="round" stroke-linecap="butt"/>
<path d="M691.26 743.05L697.16 748.95L691.26 754.85L685.36 748.95Z" fill="#1f497d"/>
<path d="M729.78 711.80L735.68 717.70L729.78 723.60L723.88 717.70Z" fill="#1f497d"/>
<path d="M768.30 721.80L774.20 727.70L768.30 733.60L762.40 727.70Z" fill="#1f497d"/>
<path d="M806.82 743.05L812.72 748.95L806.82 754.85L800.92 748.95Z" fill="#1f497d"/>
<path d="M845.34 736.55L851.24 742.45L845.34 748.35L839.44 742.45Z" fill="#1f497d"/>
<path d="M883.86 747.55L889.76 753.45L883.86 759.35L877.96 753.45Z" fill="#1f497d"/>
<path d="M922.39 768.55L928.29 774.45L922.39 780.35L916.49 774.45Z" fill="#1f497d"/>
<path d="M960.91 785.05L966.81 790.95L960.91 796.85L955.01 790.95Z" fill="#1f497d"/>
<path d="M999.43 798.05L1005.33 803.95L999.43 809.85L993.53 803.95Z" fill="#1f497d"/>
<path d="M1037.95 709.05L1043.85 714.95L1037.95 720.85L1032.05 714.95Z" fill="#1f497d"/>
<path d="M1076.47 738.80L1082.37 744.70L1076.47 750.60L1070.57 744.70Z" fill="#1f497d"/>
<path d="M1114.99 817.05L1120.89 822.95L1114.99 828.85L1109.09 822.95Z" fill="#1f497d"/>
<line x1="786.25" y1="693.00" x2="825.75" y2="693.00" stroke="#c00000" stroke-width="2.2"/>
<path d="M806.00 687.60L811.40 693.00L806.00 698.40L800.60 693.00Z" fill="#c00000"/>
<line x1="905.25" y1="693.00" x2="944.75" y2="693.00" stroke="#1f497d" stroke-width="2.2"/>
<path d="M925.00 687.60L930.40 693.00L925.00 698.40L919.60 693.00Z" fill="#1f497d"/>
</g>
<g id="chart5">
<line x1="105.50" y1="1113.90" x2="105.50" y2="1302.10" stroke="#b4b4b4" stroke-width="1"/>
<line x1="101.00" y1="1114.40" x2="105.50" y2="1114.40" stroke="#b4b4b4" stroke-width="1"/>
<line x1="101.00" y1="1145.60" x2="105.50" y2="1145.60" stroke="#b4b4b4" stroke-width="1"/>
<line x1="101.00" y1="1176.80" x2="105.50" y2="1176.80" stroke="#b4b4b4" stroke-width="1"/>
<line x1="101.00" y1="1239.20" x2="105.50" y2="1239.20" stroke="#b4b4b4" stroke-width="1"/>
<line x1="101.00" y1="1270.40" x2="105.50" y2="1270.40" stroke="#b4b4b4" stroke-width="1"/>
<line x1="101.00" y1="1301.60" x2="105.50" y2="1301.60" stroke="#b4b4b4" stroke-width="1"/>
<line x1="101.00" y1="1208.00" x2="105.50" y2="1208.00" stroke="#acacac" stroke-width="2"/>
<line x1="105.50" y1="1208.00" x2="574.25" y2="1208.00" stroke="#8b8b8b" stroke-width="2"/>
<line x1="144.52" y1="1208.00" x2="144.52" y2="1212.00" stroke="#8b8b8b" stroke-width="1"/>
<line x1="183.54" y1="1208.00" x2="183.54" y2="1212.00" stroke="#8b8b8b" stroke-width="1"/>
<line x1="222.56" y1="1208.00" x2="222.56" y2="1212.00" stroke="#8b8b8b" stroke-width="1"/>
<line x1="261.58" y1="1208.00" x2="261.58" y2="1212.00" stroke="#8b8b8b" stroke-width="1"/>
<line x1="300.60" y1="1208.00" x2="300.60" y2="1212.00" stroke="#8b8b8b" stroke-width="1"/>
<line x1="339.62" y1="1208.00" x2="339.62" y2="1212.00" stroke="#8b8b8b" stroke-width="1"/>
<line x1="378.65" y1="1208.00" x2="378.65" y2="1212.00" stroke="#8b8b8b" stroke-width="1"/>
<line x1="417.67" y1="1208.00" x2="417.67" y2="1212.00" stroke="#8b8b8b" stroke-width="1"/>
<line x1="456.69" y1="1208.00" x2="456.69" y2="1212.00" stroke="#8b8b8b" stroke-width="1"/>
<line x1="495.71" y1="1208.00" x2="495.71" y2="1212.00" stroke="#8b8b8b" stroke-width="1"/>
<line x1="534.73" y1="1208.00" x2="534.73" y2="1212.00" stroke="#8b8b8b" stroke-width="1"/>
<line x1="573.75" y1="1208.00" x2="573.75" y2="1212.00" stroke="#8b8b8b" stroke-width="1"/>
<polyline points="125.01,1202.65 164.03,1205.15 203.05,1184.15 242.07,1192.15 281.09,1138.90 320.11,1203.90 359.14,1183.15 398.16,1267.90 437.18,1193.90 476.20,1195.90 515.22,1198.15 554.24,1206.40" fill="none" stroke="#c00000" stroke-width="2.2" stroke-linejoin="round" stroke-linecap="butt"/>
<path d="M125.01 1196.75L130.91 1202.65L125.01 1208.55L119.11 1202.65Z" fill="#c00000"/>
<path d="M164.03 1199.25L169.93 1205.15L164.03 1211.05L158.13 1205.15Z" fill="#c00000"/>
<path d="M203.05 1178.25L208.95 1184.15L203.05 1190.05L197.15 1184.15Z" fill="#c00000"/>
<path d="M242.07 1186.25L247.97 1192.15L242.07 1198.05L236.17 1192.15Z" fill="#c00000"/>
<path d="M281.09 1133.00L286.99 1138.90L281.09 1144.80L275.19 1138.90Z" fill="#c00000"/>
<path d="M320.11 1198.00L326.01 1203.90L320.11 1209.80L314.21 1203.90Z" fill="#c00000"/>
<path d="M359.14 1177.25L365.04 1183.15L359.14 1189.05L353.24 1183.15Z" fill="#c00000"/>
<path d="M398.16 1262.00L404.06 1267.90L398.16 1273.80L392.26 1267.90Z" fill="#c00000"/>
<path d="M437.18 1188.00L443.08 1193.90L437.18 1199.80L431.28 1193.90Z" fill="#c00000"/>
<path d="M476.20 1190.00L482.10 1195.90L476.20 1201.80L470.30 1195.90Z" fill="#c00000"/>
<path d="M515.22 1192.25L521.12 1198.15L515.22 1204.05L509.32 1198.15Z" fill="#c00000"/>
<path d="M554.24 1200.50L560.14 1206.40L554.24 1212.30L548.34 1206.40Z" fill="#c00000"/>
<polyline points="125.01,1180.65 164.03,1222.90 203.05,1207.65 242.07,1241.15 281.09,1198.65 320.11,1179.65 359.14,1180.90 398.16,1167.15 437.18,1187.15 476.20,1207.40 515.22,1220.65 554.24,1237.90" fill="none" stroke="#1f497d" stroke-width="2.2" stroke-linejoin="round" stroke-linecap="butt"/>
<path d="M125.01 1174.75L130.91 1180.65L125.01 1186.55L119.11 1180.65Z" fill="#1f497d"/>
<path d="M164.03 1217.00L169.93 1222.90L164.03 1228.80L158.13 1222.90Z" fill="#1f497d"/>
<path d="M203.05 1201.75L208.95 1207.65L203.05 1213.55L197.15 1207.65Z" fill="#1f497d"/>
<path d="M242.07 1235.25L247.97 1241.15L242.07 1247.05L236.17 1241.15Z" fill="#1f497d"/>
<path d="M281.09 1192.75L286.99 1198.65L281.09 1204.55L275.19 1198.65Z" fill="#1f497d"/>
<path d="M320.11 1173.75L326.01 1179.65L320.11 1185.55L314.21 1179.65Z" fill="#1f497d"/>
<path d="M359.14 1175.00L365.04 1180.90L359.14 1186.80L353.24 1180.90Z" fill="#1f497d"/>
<path d="M398.16 1161.25L404.06 1167.15L398.16 1173.05L392.26 1167.15Z" fill="#1f497d"/>
<path d="M437.18 1181.25L443.08 1187.15L437.18 1193.05L431.28 1187.15Z" fill="#1f497d"/>
<path d="M476.20 1201.50L482.10 1207.40L476.20 1213.30L470.30 1207.40Z" fill="#1f497d"/>
<path d="M515.22 1214.75L521.12 1220.65L515.22 1226.55L509.32 1220.65Z" fill="#1f497d"/>
<path d="M554.24 1232.00L560.14 1237.90L554.24 1243.80L548.34 1237.90Z" fill="#1f497d"/>
<line x1="163.00" y1="1097.30" x2="203.00" y2="1097.30" stroke="#c00000" stroke-width="2.2"/>
<path d="M182.75 1091.90L188.15 1097.30L182.75 1102.70L177.35 1097.30Z" fill="#c00000"/>
<line x1="333.50" y1="1097.30" x2="373.00" y2="1097.30" stroke="#1f497d" stroke-width="2.2"/>
<path d="M353.00 1091.90L358.40 1097.30L353.00 1102.70L347.60 1097.30Z" fill="#1f497d"/>
</g>
<g id="chart6">
<line x1="659.00" y1="1116.30" x2="659.00" y2="1301.00" stroke="#acacac" stroke-width="2"/>
<line x1="654.00" y1="1277.12" x2="659.00" y2="1277.12" stroke="#acacac" stroke-width="2"/>
<line x1="654.00" y1="1254.25" x2="659.00" y2="1254.25" stroke="#acacac" stroke-width="2"/>
<line x1="654.00" y1="1231.38" x2="659.00" y2="1231.38" stroke="#acacac" stroke-width="2"/>
<line x1="654.00" y1="1208.50" x2="659.00" y2="1208.50" stroke="#acacac" stroke-width="2"/>
<line x1="654.00" y1="1185.62" x2="659.00" y2="1185.62" stroke="#acacac" stroke-width="2"/>
<line x1="654.00" y1="1162.75" x2="659.00" y2="1162.75" stroke="#acacac" stroke-width="2"/>
<line x1="654.00" y1="1139.88" x2="659.00" y2="1139.88" stroke="#acacac" stroke-width="2"/>
<line x1="654.00" y1="1117.00" x2="659.00" y2="1117.00" stroke="#acacac" stroke-width="2"/>
<line x1="654.00" y1="1300.00" x2="659.00" y2="1300.00" stroke="#acacac" stroke-width="2"/>
<line x1="659.00" y1="1300.00" x2="1117.80" y2="1300.00" stroke="#8b8b8b" stroke-width="2"/>
<line x1="659.00" y1="1300.00" x2="659.00" y2="1304.00" stroke="#8b8b8b" stroke-width="2"/>
<line x1="685.91" y1="1300.00" x2="685.91" y2="1304.00" stroke="#8b8b8b" stroke-width="1"/>
<line x1="712.82" y1="1300.00" x2="712.82" y2="1304.00" stroke="#8b8b8b" stroke-width="1"/>
<line x1="739.74" y1="1300.00" x2="739.74" y2="1304.00" stroke="#8b8b8b" stroke-width="1"/>
<line x1="766.65" y1="1300.00" x2="766.65" y2="1304.00" stroke="#8b8b8b" stroke-width="1"/>
<line x1="793.56" y1="1300.00" x2="793.56" y2="1304.00" stroke="#8b8b8b" stroke-width="1"/>
<line x1="820.47" y1="1300.00" x2="820.47" y2="1304.00" stroke="#8b8b8b" stroke-width="1"/>
<line x1="847.38" y1="1300.00" x2="847.38" y2="1304.00" stroke="#8b8b8b" stroke-width="1"/>
<line x1="874.29" y1="1300.00" x2="874.29" y2="1304.00" stroke="#8b8b8b" stroke-width="1"/>
<line x1="901.21" y1="1300.00" x2="901.21" y2="1304.00" stroke="#8b8b8b" stroke-width="1"/>
<line x1="928.12" y1="1300.00" x2="928.12" y2="1304.00" stroke="#8b8b8b" stroke-width="1"/>
<line x1="955.03" y1="1300.00" x2="955.03" y2="1304.00" stroke="#8b8b8b" stroke-width="1"/>
<line x1="981.94" y1="1300.00" x2="981.94" y2="1304.00" stroke="#8b8b8b" stroke-width="1"/>
<line x1="1008.85" y1="1300.00" x2="1008.85" y2="1304.00" stroke="#8b8b8b" stroke-width="1"/>
<line x1="1035.76" y1="1300.00" x2="1035.76" y2="1304.00" stroke="#8b8b8b" stroke-width="1"/>
<line x1="1062.68" y1="1300.00" x2="1062.68" y2="1304.00" stroke="#8b8b8b" stroke-width="1"/>
<line x1="1089.59" y1="1300.00" x2="1089.59" y2="1304.00" stroke="#8b8b8b" stroke-width="1"/>
<line x1="1116.50" y1="1300.00" x2="1116.50" y2="1304.00" stroke="#8b8b8b" stroke-width="1"/>
<polyline points="659.20,1253.75 1117.25,1253.75" fill="none" stroke="#e07b28" stroke-width="1.7" stroke-linejoin="round" stroke-linecap="butt"/>
<polyline points="659.20,1140.00 804.25,1140.00 805.50,1151.50 879.75,1151.50 883.25,1162.75 964.50,1162.75 966.00,1174.25 1050.50,1174.25 1054.00,1190.00 1117.25,1190.00" fill="none" stroke="#c00000" stroke-width="2.1" stroke-linejoin="round" stroke-linecap="butt"/>
<polyline points="659.20,1151.40 823.25,1151.50 824.50,1162.75 895.25,1162.75 896.75,1174.25 974.50,1174.25 977.50,1185.75 1055.25,1185.75 1056.75,1201.50 1117.25,1201.50" fill="none" stroke="#1f497d" stroke-width="2.1" stroke-linejoin="round" stroke-linecap="butt"/>
<line x1="705.25" y1="1096.00" x2="744.75" y2="1096.00" stroke="#c00000" stroke-width="2.1"/>
<line x1="829.00" y1="1096.00" x2="868.25" y2="1096.00" stroke="#1f497d" stroke-width="2.1"/>
<line x1="1002.25" y1="1096.00" x2="1041.75" y2="1096.00" stroke="#e07b28" stroke-width="1.8"/>
</g>
<g id="htext" fill="#ffffff" font-family="'Liberation Sans', sans-serif">
<!-- big Angel logo -->
<use href="#mini" transform="translate(602.8 10.4)"/>
<text x="645.4" y="62.5" font-size="35.2" font-weight="700" textLength="235.3" lengthAdjust="spacingAndGlyphs">Angel Broking</text>
<text x="881" y="44.5" font-size="7" textLength="6" lengthAdjust="spacingAndGlyphs">®</text>
<text x="692.2" y="87.3" font-size="17.4" textLength="188" lengthAdjust="spacingAndGlyphs">Service Truly Personalized</text>
<rect x="900.3" y="16.2" width="1.3" height="75.7" fill="#8ea9c9"/>
<text x="933.1" y="28.2" font-size="14.5" font-family="'DejaVu Sans Light','DejaVu Sans',sans-serif" font-weight="200" textLength="84.6" lengthAdjust="spacingAndGlyphs">Powered By</text>
<mask id="arqm" maskUnits="userSpaceOnUse" x="900" y="30" width="175" height="70"><rect x="900" y="30" width="175" height="70" fill="#fff"/><path d="M942 50.4L926.9 85L955.4 85Z" fill="#000"/><rect x="1012" y="86.1" width="63" height="14" fill="#000"/><path d="M1057.2 72L1069 74L1069 87L1067.6 86.6Z" fill="#000"/></mask>
<g mask="url(#arqm)"><text font-weight="700" font-size="68"><tspan x="914.5" y="84.5" textLength="53.7" lengthAdjust="spacingAndGlyphs">A</tspan><tspan x="967.2" y="84.5" textLength="45.75" lengthAdjust="spacingAndGlyphs">R</tspan><tspan x="1014.7" y="85.45" font-size="70" textLength="54.4" lengthAdjust="spacingAndGlyphs">Q</tspan></text></g>
<path d="M1048.6 60.1L1040.2 70.5L1069.6 88.7Z" fill="#f6c21a"/>
<text x="1064.8" y="42" font-size="5.5" textLength="4.6" lengthAdjust="spacingAndGlyphs">©</text>
</g>
<g id="ftext" font-family="'Liberation Sans', sans-serif">
<text x="29.2" y="1651.25" font-size="17" fill="#f4f7fb" word-spacing="-1" textLength="279.3" lengthAdjust="spacingAndGlyphs">Angel Broking Wins Global Marketing</text>
<text x="28.7" y="1671.25" font-size="17" fill="#f4f7fb" word-spacing="-0.8" textLength="292.8" lengthAdjust="spacingAndGlyphs">Excellence Awards Across 90 Countries</text>
<g fill="#ecb55c" stroke="#ecb55c" stroke-width="0.45" font-weight="700" font-size="20.6">
<text x="388" y="1651.4" textLength="134.1" lengthAdjust="spacingAndGlyphs">LAUNCH OF THE YEAR</text>
<text x="581" y="1651.5" textLength="182.1" lengthAdjust="spacingAndGlyphs">TECHNOLOGY EFFECTIVENESS</text>
<text x="825.4" y="1651.4" textLength="120.2" lengthAdjust="spacingAndGlyphs">BEST TRADING APP</text>
<text x="1014.4" y="1651.2" textLength="134.1" lengthAdjust="spacingAndGlyphs">MASTER BRAND 2016</text>
</g>
<mask id="arqm1" maskUnits="userSpaceOnUse" x="380" y="1650" width="75" height="34"><rect x="380" y="1650" width="75" height="34" fill="#fff"/><path d="M398.2 1663.8L392.6 1677.2L403.2 1677.2Z" fill="#000"/><rect x="424" y="1677.3" width="31" height="7" fill="#000"/></mask>
<mask id="arqm2" maskUnits="userSpaceOnUse" x="575" y="1650" width="75" height="34"><rect x="575" y="1650" width="75" height="34" fill="#fff"/><path d="M591.1 1662.6L585.5 1676L596 1676Z" fill="#000"/><rect x="616" y="1676.1" width="31" height="8" fill="#000"/></mask>
<g fill="#ffffff" font-weight="700" font-size="25.8">
<g mask="url(#arqm1)"><text><tspan x="388.2" y="1676.8" textLength="19.6" lengthAdjust="spacingAndGlyphs">A</tspan><tspan x="408.2" y="1676.8" textLength="17.4" lengthAdjust="spacingAndGlyphs">R</tspan><tspan x="426.1" y="1676.9" font-size="26" textLength="22.8" lengthAdjust="spacingAndGlyphs">Q</tspan></text></g>
<g mask="url(#arqm2)"><text><tspan x="581.1" y="1675.6" textLength="19.4" lengthAdjust="spacingAndGlyphs">A</tspan><tspan x="600.8" y="1675.6" textLength="17.2" lengthAdjust="spacingAndGlyphs">R</tspan><tspan x="618.4" y="1675.7" font-size="26" textLength="22.4" lengthAdjust="spacingAndGlyphs">Q</tspan></text></g>
</g>
<path d="M440.6 1667L437.3 1670.8L448.4 1678.8Z" fill="#f6c21a"/>
<path d="M632.6 1666L629.3 1669.6L640.2 1677.6Z" fill="#f6c21a"/>
<text x="849.2" y="1675.1" font-size="12.3" fill="#ffffff" stroke="#ffffff" stroke-width="0.25" textLength="102.3" lengthAdjust="spacingAndGlyphs">Angel Broking <tspan font-weight="700">App</tspan></text>
<text x="1036.4" y="1675.1" font-size="12.3" fill="#ffffff" stroke="#ffffff" stroke-width="0.25" textLength="75" lengthAdjust="spacingAndGlyphs">Angel Broking</text>
</g>

</svg>
</body></html>
